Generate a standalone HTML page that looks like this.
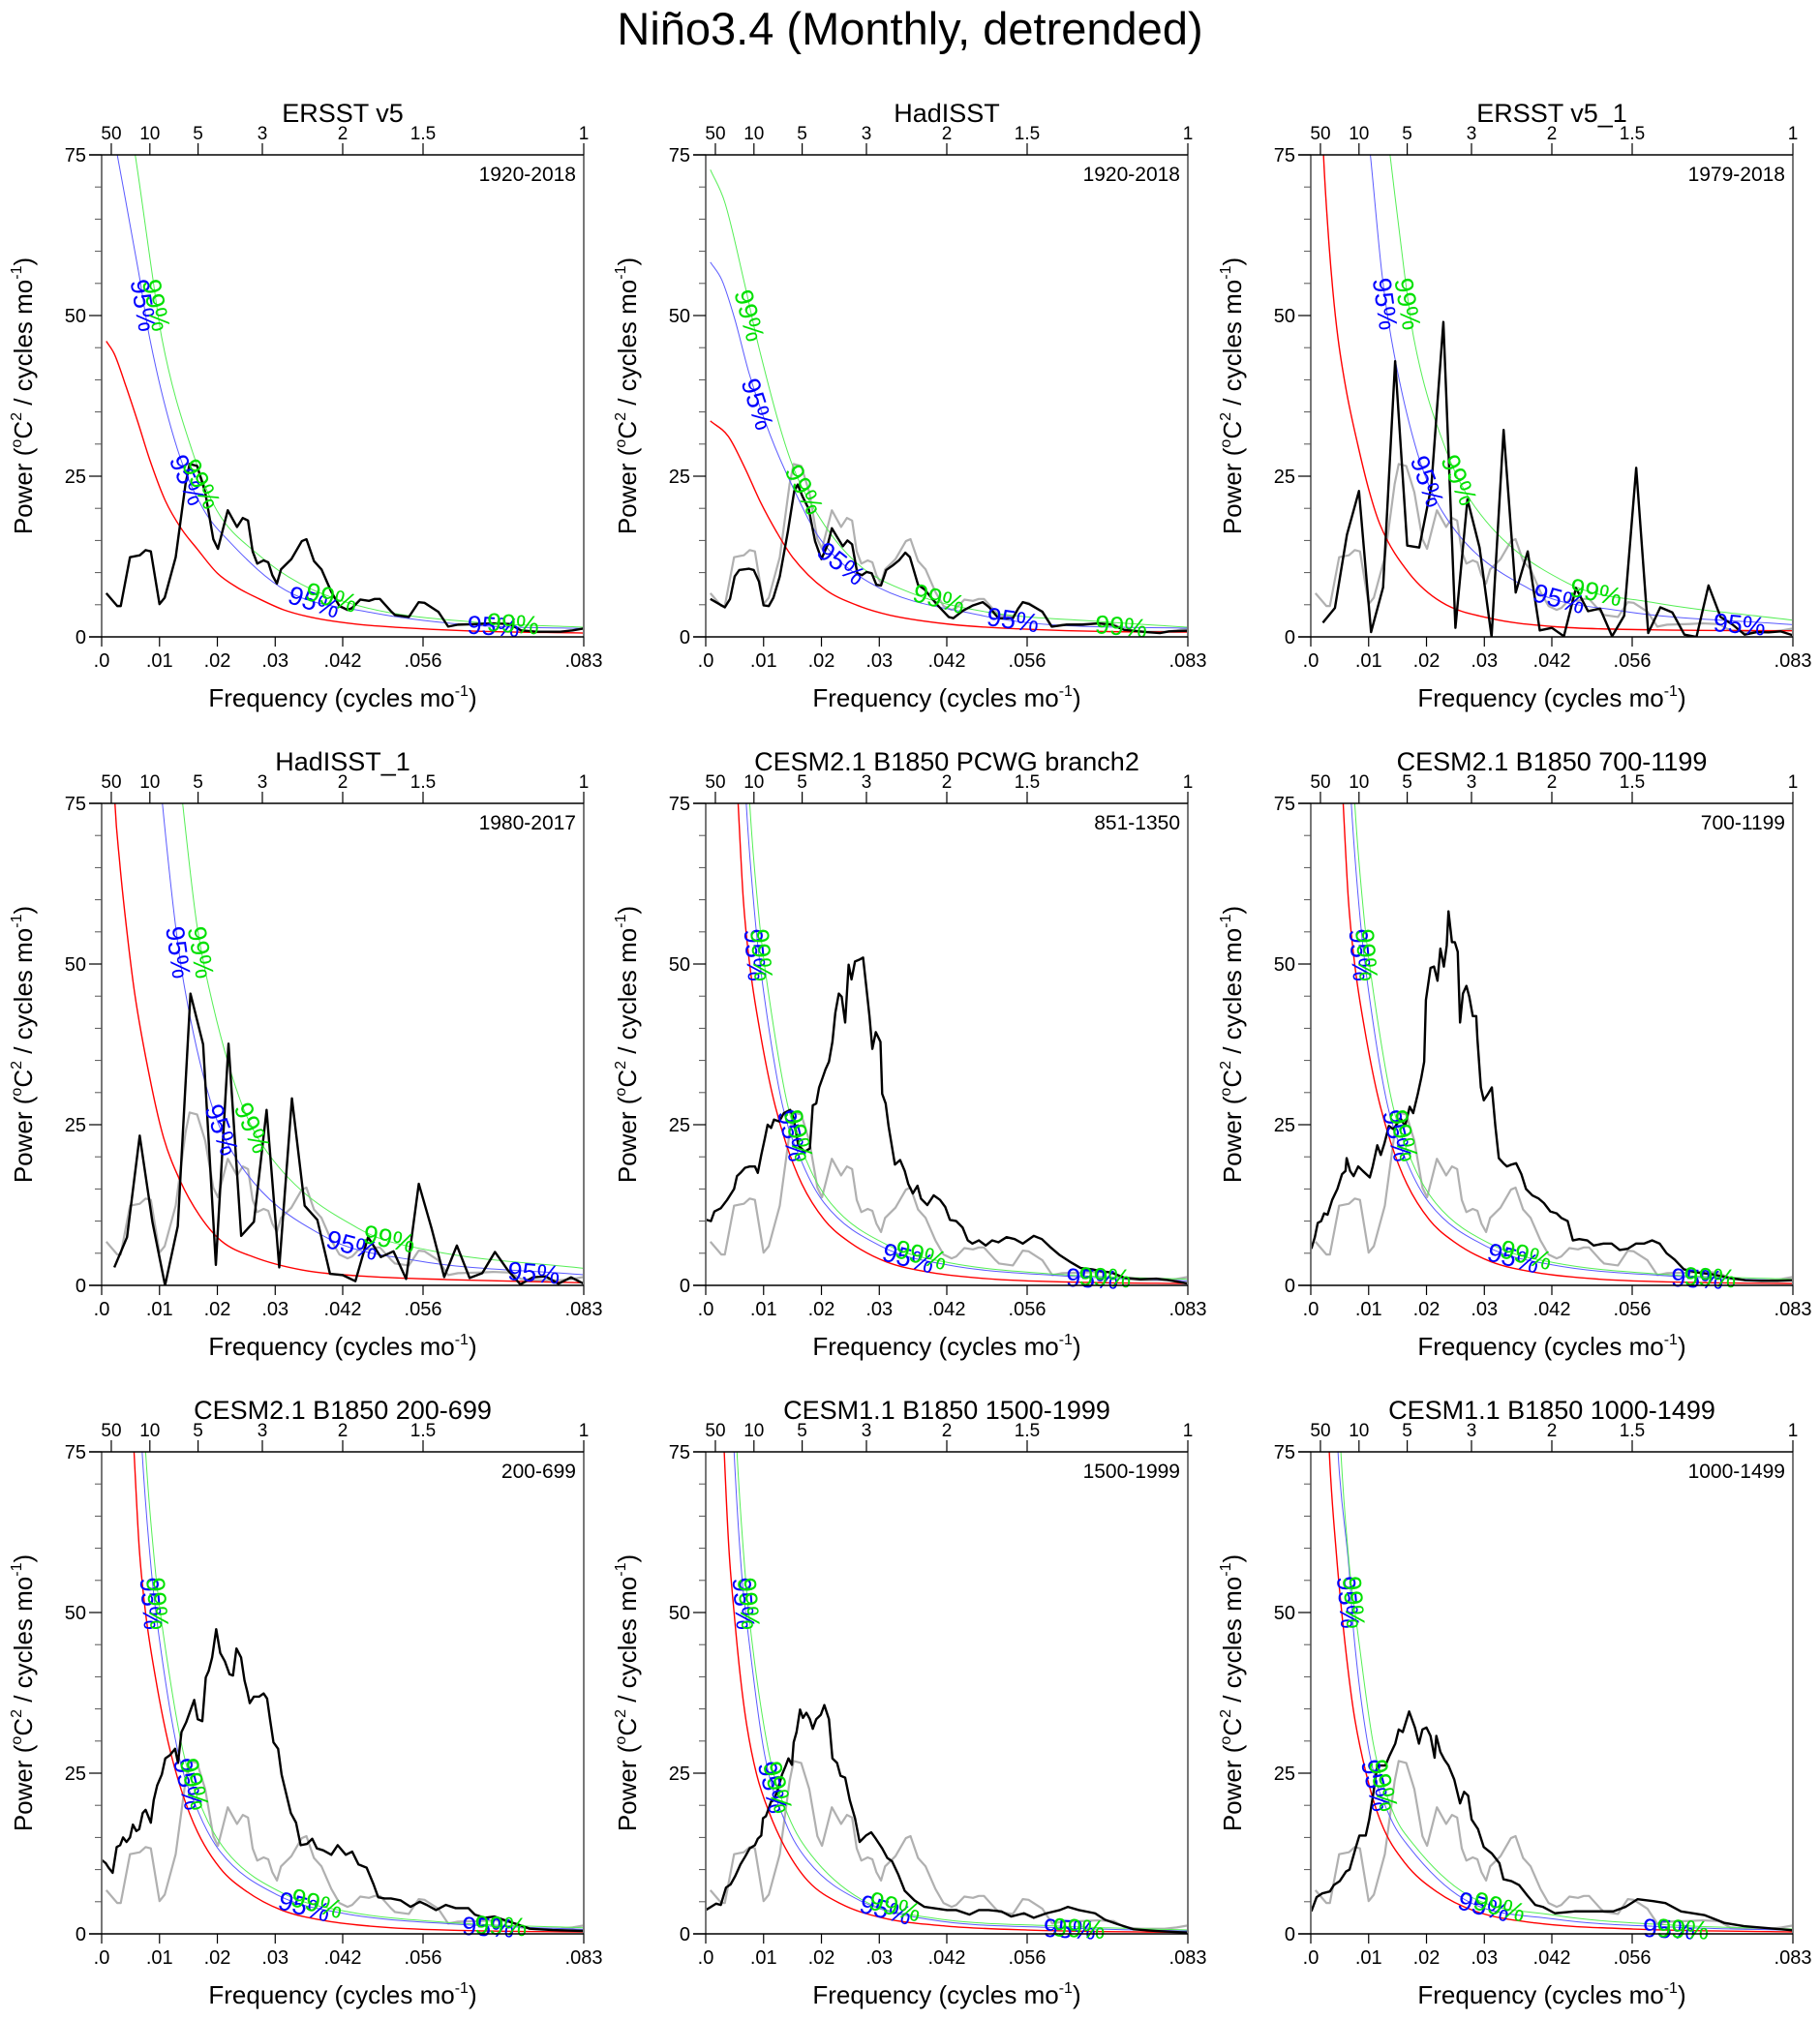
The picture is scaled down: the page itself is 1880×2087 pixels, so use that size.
<!DOCTYPE html>
<html><head><meta charset="utf-8"><title>Niño3.4 spectra</title>
<style>
html,body{margin:0;padding:0;background:#fff;}
svg{display:block;font-family:"Liberation Sans",sans-serif;}
</style></head>
<body>
<svg id="fig" xmlns="http://www.w3.org/2000/svg" width="1880" height="2087" viewBox="0 0 1880 2087">
<text x="940" y="46" text-anchor="middle" font-size="47">Niño3.4 (Monthly, detrended)</text>
</svg>
<script>
// ---------- shared gray series (ERSST v5 1920-2018) ----------
const ersstFreq = [.0008,.0027,.0033,.0049,.0066,.0076,.0085,.0100,.0109,.0128,.0145,.0152,.0165,.0179,.0193,.0201,.0218,.0234,.0244,.0253,.0261,.0269,.0280,.0288,.0295,.0303,.0310,.0328,.0346,.0354,.0367,.0380,.0397,.0411,.0425,.0433,.0447,.0462,.0472,.0481,.0500,.0507,.0531,.0548,.0558,.0582,.0599,.0616,.0653,.0677,.0705,.0725,.0752,.0793,.0814,.0833];
const ersstPower = [6.8,4.8,4.8,12.4,12.7,13.5,13.3,5.1,6.1,12.4,23.8,26.9,26.6,22.5,15.2,13.7,19.7,17.1,18.5,18.1,13.3,11.4,11.9,11.6,9.6,8.3,10.5,12.1,14.9,15.2,11.8,10.5,7.0,4.8,4.2,4.5,5.8,5.6,5.9,5.9,4.0,3.4,3.1,5.4,5.3,3.9,1.6,1.9,2.0,2.1,2.0,1.0,0.8,0.8,1.0,1.3];

// ---------- panel 2 HadISST ----------
const hadFreq = [.0008,.0033,.0042,.0050,.0058,.0075,.0083,.0092,.0100,.0109,.0117,.0128,.0142,.0153,.0159,.0167,.0178,.0189,.0200,.0211,.0218,.0228,.0237,.0245,.0253,.0262,.0270,.0278,.0287,.0295,.0303,.0312,.0323,.0334,.0345,.0353,.0367,.0378,.0401,.0420,.0428,.0445,.0462,.0479,.0490,.0506,.0531,.0540,.0548,.0559,.0582,.0598,.0623,.0651,.0679,.0701,.0723,.0762,.0785,.0801,.0833];
const hadPower = [5.9,4.6,5.9,9.4,10.4,10.6,10.4,8.6,4.9,4.8,6.1,9.4,16.4,22.7,23.7,21.9,19.9,14.9,12.1,14.4,16.9,15.4,14.1,15.0,14.4,9.9,9.6,10.1,9.9,8.1,8.0,10.4,11.1,11.9,13.1,12.4,8.1,7.4,4.9,3.1,2.9,4.1,4.9,5.4,4.6,2.9,2.9,4.4,5.4,5.1,3.9,1.6,1.9,1.9,2.1,1.9,1.1,0.75,0.6,0.85,0.95];

// ---------- panel 3 ERSST v5_1 (1979-2018) ----------
const ers1Freq = [.00208,.00417,.00625,.00833,.01042,.0125,.01458,.01667,.01875,.02083,.02292,.025,.02708,.02917,.03125,.03333,.03542,.0375,.03958,.04167,.04375,.04583,.04792,.05,.05208,.05417,.05625,.05833,.06042,.0625,.06458,.06667,.06875,.07083,.07292,.075,.07708,.07917,.08125,.08333];
const ers1Power = [2.2,4.5,15.9,22.7,0.75,7.7,42.9,14.2,13.9,23.4,49,1.4,21.4,13.9,0,32.2,6.9,13.3,1.0,1.4,0.1,7.6,4.0,4.4,0.1,3.3,26.3,0.6,4.6,3.8,0.35,0,8.0,3.1,1.9,0.35,0.75,0.7,0.85,0.25];

// ---------- panel 4 HadISST_1 (1980-2017) ----------
const had1Freq = [.00219,.00439,.00658,.00877,.01096,.01316,.01535,.01754,.01974,.02193,.02412,.02632,.02851,.0307,.03289,.03509,.03728,.03947,.04167,.04386,.04605,.04825,.05044,.05263,.05482,.05702,.05921,.0614,.0636,.06579,.06798,.07018,.07237,.07456,.07675,.07895,.08114,.08333];
const had1Power = [2.8,7.5,23.3,9.9,0,9.2,45.4,37.5,3.2,37.6,7.7,9.9,27.3,2.8,29.1,12.4,10.2,1.8,1.6,0.65,7.5,4.4,5.3,1.0,15.8,8.9,1.3,6.2,1.15,1.9,5.2,2.4,0.15,1.25,1.4,0.25,1.25,0.25];

// ---------- panel 5 CESM2.1 PCWG branch2 ----------
const pcwgFreq = [.0001,.0009,.0015,.0026,.0037,.0049,.0054,.006,.0068,.0076,.0085,.009,.0096,.0102,.0107,.0113,.0118,.0127,.0135,.0146,.0152,.016,.0171,.018,.0185,.0191,.0196,.0202,.0207,.0213,.0219,.0224,.023,.0235,.0241,.0247,.0252,.0258,.0266,.0272,.0277,.0283,.0288,.0294,.0302,.0305,.0311,.0316,.0327,.0336,.0344,.035,.0358,.0366,.0372,.0383,.0394,.0405,.0414,.0422,.0433,.0444,.0453,.0461,.0472,.0484,.0495,.0506,.052,.0534,.0548,.0556,.0567,.0581,.0595,.0612,.0629,.0648,.0668,.0684,.0701,.0723,.0751,.0779,.0801,.0833];
const pcwgPower = [10.2,10,11.5,12,13.3,15,17,17.5,18.3,18.5,18.5,17.5,20.3,22.8,25,24.5,25.8,25.5,26.8,27.3,26,21.8,20.8,21.3,28,28.3,30.8,32.3,33.6,34.8,37.9,42.4,45.4,44.9,40.9,49.9,47.6,50.4,50.7,51,46.9,41.9,36.8,39.4,37.9,29.8,28.3,24.8,18.8,19.5,17.8,15.8,14.3,15.5,13.5,12.5,14,13.3,12.2,10.2,10,9,7,6.5,7,6.2,7,6.7,7.5,7.2,6.5,7,7.7,7.2,6,4.7,3.7,2.7,2.5,2.2,2,1.2,0.95,1.05,0.8,0.3];

// ---------- panel 6 CESM2.1 700-1199 ----------
const c700Freq = [.0001,.0007,.0012,.0018,.0023,.0029,.0037,.0046,.0054,.006,.0062,.0068,.0074,.0082,.009,.0102,.0107,.0115,.0121,.0127,.0135,.0143,.0155,.0163,.0171,.0177,.0185,.0191,.0196,.0199,.0207,.0213,.0219,.0224,.023,.0235,.0238,.0244,.0249,.0254,.0258,.0263,.0269,.0274,.028,.0286,.0288,.0294,.0299,.0305,.0313,.0319,.0325,.0333,.0339,.0347,.0355,.0364,.0372,.0383,.0394,.0403,.0414,.0425,.0433,.0444,.0453,.0464,.0478,.0489,.0506,.052,.0534,.0548,.0562,.0576,.059,.0603,.0615,.0629,.0645,.0668,.0695,.0723,.0751,.0779,.0807,.0833];
const c700Power = [5.7,7.5,9.7,10,11.2,11,13.3,15,17.3,17.8,19.8,17.8,17,18.5,17.8,16.8,18.5,21.8,20.3,22,24.8,24.3,26,24.8,27.8,26.8,29.8,32.3,34.8,44.4,49.4,49.6,47.4,52.4,49.6,52.9,58.2,53.4,53.4,51.9,40.9,45.4,46.6,44.9,41.9,41.9,38.4,30.8,28.8,29.6,30.8,24.8,19.8,19,18.5,18.8,19,17.3,15,14,13.5,12.8,11.5,11.2,10.5,10,7,7.2,7,6.2,6.5,6.5,5.5,5.7,6.5,6.5,7,6.5,5,4,2.5,2,1.7,1.2,0.8,0.7,0.7,0.8];

// ---------- panel 7 CESM2.1 200-699 ----------
const c200Freq = [0,.0007,.0012,.0019,.0026,.0032,.0037,.0043,.0049,.0054,.006,.0065,.0071,.0076,.0085,.009,.0096,.0104,.011,.0118,.0127,.0132,.0138,.0146,.0152,.016,.0166,.0174,.018,.0185,.0191,.0198,.0205,.0213,.0221,.0227,.0233,.0241,.0247,.0252,.0256,.0263,.0272,.028,.0286,.0291,.0297,.0305,.0311,.0319,.0327,.0336,.0344,.0355,.0364,.0372,.0383,.0397,.0408,.0422,.0433,.0444,.0458,.047,.0478,.0489,.05,.0517,.0534,.055,.0562,.0578,.0595,.0612,.0634,.0645,.0662,.0679,.0701,.0718,.074,.0779,.0833];
const c200Power = [11.5,11,10.3,9.5,13.5,13.8,15,14.3,15,17,16,16.3,18.8,19.3,17.3,20.8,23.1,24.8,27.3,27.8,28.8,26.6,31.4,32.9,34.4,36.4,33.4,33.1,39.9,40.9,43,47.4,43.7,42.4,40.4,40.2,44.4,43,39.4,37.6,35.9,36.9,36.9,37.4,36.6,33.4,29.8,28.8,24.8,21.8,18.8,17.3,13.8,14,14.8,13.3,13,12.3,13.8,12.3,12.8,10.8,10.3,7.7,5.7,5.5,5.5,5.2,4.2,5,4.5,3.7,4.5,4,4,3,2.5,2.7,2,1.5,0.8,0.6,0.45];

// ---------- panel 8 CESM1.1 1500-1999 ----------
const c1500Freq = [0,.0009,.0018,.0026,.0035,.0043,.0051,.006,.0068,.0076,.0085,.009,.0096,.0099,.0104,.0113,.0118,.0124,.0132,.0138,.0143,.0149,.0152,.0157,.0163,.0168,.0174,.018,.0185,.0191,.0199,.0205,.0213,.0219,.0227,.0233,.0241,.0249,.0258,.0266,.0277,.0286,.0294,.0305,.0314,.0322,.0333,.0344,.0361,.0378,.0394,.0417,.0433,.0456,.0472,.0489,.0511,.0528,.055,.0567,.0589,.0612,.0626,.0645,.0673,.069,.0712,.074,.0779,.0833];
const c1500Power = [3.7,4.2,4.7,4.5,7.2,7.7,9,10.8,12,13.3,13.8,14.8,15.3,18,18.3,20.6,20.8,22.3,24.8,26.1,27.3,26.3,29.8,31.4,34.9,33.6,34.4,33.4,31.9,33.4,34.1,35.6,33.4,27.3,26.6,24.6,24.3,20.8,18,14.3,15.3,15.8,14.8,13.3,11.8,11.3,9.2,6.7,5.2,4.2,4,3.7,3.7,3,3.7,3.7,3.5,2.7,3.2,2.5,3.2,3.7,4.2,3.7,3.2,2.2,1.5,0.7,0.45,0.2];

// ---------- panel 9 CESM1.1 1000-1499 ----------
const c1000Freq = [.0001,.001,.002,.0033,.004,.005,.0061,.0067,.0078,.0084,.0095,.0101,.0108,.0115,.0129,.0136,.0146,.0152,.0159,.017,.018,.0187,.0193,.02,.0207,.0214,.0217,.0224,.0231,.0238,.0248,.0258,.0265,.0272,.0278,.0289,.0299,.0313,.0326,.0333,.0347,.036,.0374,.0388,.0401,.0422,.0456,.0489,.0523,.0544,.0565,.0592,.0613,.064,.0681,.0715,.0749,.0789,.0833];
const c1000Power = [3.5,5.7,6.3,6.6,7.6,8.2,9.7,10,13.5,15.3,15.3,17.8,21.8,26.2,26.2,27.7,29.6,31.8,31.4,34.6,32.1,29.6,31.8,32.1,30.8,27.4,30.8,28.3,27.1,26.2,24,20.3,22.1,21.5,17.8,16.3,13.5,12.5,11,8.5,8.2,7.6,6,4.5,4.2,3.2,3.5,3.5,3.5,4.2,5.4,5.1,4.8,3.5,2.9,1.7,1.2,0.9,0.55];

// ---------- red-noise and significance curves ----------
const red1F=[.0008,.0022,.0042,.0063,.0083,.011,.0138,.0165,.020,.0234,.0268,.0315,.037,.0438,.0507,.0643,.0833];
const red1V=[46,44,39,33.3,27.6,21.2,16.8,13.7,9.9,7.7,6.1,4.2,2.9,2.0,1.5,0.9,0.6];
const sig95_1F=[.0008,.0015,.0027,.0064,.0083,.0131,.0175,.022,.0319,.0459,.0643,.0833];
const sig95_1V=[85,81,75,56.7,46.5,29.2,20,14.9,7.2,3.9,1.8,1.3];
const sig99_1F=[.0008,.003,.0058,.0087,.0104,.0157,.0199,.0268,.0343,.0459,.0643,.0833];
const sig99_1V=[100,90,75,56.7,46.5,28.8,19.7,13,8.3,4.5,2.3,1.5];

const red2F=[.0008,.0039,.0067,.0095,.0122,.015,.0206,.0262,.0317,.0428,.054,.0679,.0833];
const red2V=[33.6,31.2,26.4,20.9,16.4,12.4,7.4,4.9,3.4,1.9,1.25,0.85,0.75];
const sig95_2F=[.0008,.0028,.005,.0075,.0111,.015,.0198,.0284,.0473,.0595,.0833];
const sig95_2V=[58.3,55.5,49.5,41,31.5,23.4,15.2,8.4,3.4,1.9,1.35];
const sig99_2F=[.0008,.0033,.0067,.0092,.0147,.0198,.0262,.0353,.0484,.0679,.0833];
const sig99_2V=[72.7,67.6,55,45,27.4,18.4,11.4,6.9,3.9,2.4,1.5];

const red3F=[.0016,.0022,.003,.0038,.0047,.0062,.0081,.010,.012,.017,.0226,.0309,.042,.0588,.0833];
const red3V=[90,75,63,54,46.5,38,30,23,17.4,9.9,5.4,2.9,1.6,1.1,0.95];
const sig95_3F=[.008,.0103,.0123,.0139,.0184,.0228,.0379,.0532,.0833];
const sig95_3V=[95,75,56.5,46.5,28.7,19.4,7.4,4.1,1.9];
const sig99_3F=[.011,.0137,.0162,.0178,.0234,.0284,.0443,.0588,.0833];
const sig99_3V=[95,75,56.5,46.5,29,20.2,8.4,5.4,2.6];

const red4F=[.0015,.0023,.0031,.004,.0057,.0085,.0107,.0135,.0169,.0207,.0263,.0346,.0458,.0597,.0833];
const red4V=[95,75,66,58,45.5,31.5,23,16.4,10.9,6.9,4.4,2.4,1.4,0.9,0.4];
const sig95_4F=[.0085,.0105,.0127,.0143,.0188,.0235,.0383,.0541,.0833];
const sig95_4V=[95,75,56.5,46.5,28.7,19.4,7.7,3.9,1.65];
const sig99_4F=[.0117,.014,.0164,.0185,.0238,.0288,.0447,.0569,.0833];
const sig99_4V=[95,75,56.5,46.5,29.2,20.5,8.7,5.4,2.65];

const redCF=[.0048,.0056,.0065,.0076,.0093,.0115,.0138,.0166,.0205,.0249,.0311,.0389,.05,.0668,.0833];
const redCV=[90,75,60,49.9,39.9,29.8,22.3,15.8,10.2,6.7,3.7,2.0,0.95,0.45,0.3];
const sig95_CF=[.0062,.007,.0086,.0099,.0132,.0168,.0205,.0305,.0417,.0612,.0833];
const sig95_CV=[90,75,56.4,46.4,28.3,18.8,12.8,6.0,3.2,1.5,0.7];
const sig99_CF=[.0068,.0076,.0093,.0107,.0141,.0177,.0216,.0316,.0422,.0612,.0833];
const sig99_CV=[90,75,56.4,46.4,28.3,18.8,12.8,6.2,3.5,1.7,0.95];

const red8F=[.0026,.0032,.004,.0049,.006,.0071,.0088,.011,.0138,.0177,.0233,.0305,.0417,.0556,.0833];
const red8V=[90,75,60,50,39.9,32.4,24.8,18.8,13.3,8.2,4.7,2.5,1.2,0.6,0.2];
const sig95_8F=[.0042,.0049,.0062,.0074,.0102,.0138,.0177,.0266,.0389,.0612,.0833];
const sig95_8V=[90,75,56.2,46.2,27.8,17.3,11.3,5.2,2.2,0.95,0.45];
const sig99_8F=[.0047,.0054,.0068,.0079,.011,.0143,.0182,.0272,.0389,.0612,.0833];
const sig99_8V=[90,75,56.2,46.2,27.8,18.3,12.3,5.2,2.5,1.2,0.6];

const red9F=[.0026,.0032,.0044,.0057,.0074,.0095,.0122,.0163,.0217,.0285,.0388,.0558,.0833];
const red9V=[90,75,59.4,47,34.6,25.2,17.2,11,6.6,3.5,1.7,0.75,0.3];
const sig95_9F=[.004,.0047,.0066,.0074,.0101,.0136,.017,.0265,.0422,.0626,.0833];
const sig95_9V=[90,75,56.9,47,28.3,18.4,13.5,5.4,2.3,1.05,0.55];
const sig99_9F=[.0045,.0052,.0067,.0081,.0108,.0142,.0176,.0272,.0422,.0626,.0833];
const sig99_9V=[90,75,56.9,47,29.6,19,14.1,6,2.9,1.35,0.75];

// ---------- axis ticks ----------
const xTickVals = [0, 0.01, 0.02, 0.03, 1/24, 1/18, 1/12];
const xTickLabels = [".0", ".01", ".02", ".03", ".042", ".056", ".083"];
const periodYears = [50, 10, 5, 3, 2, 1.5, 1];
const periodLabels = ["50", "10", "5", "3", "2", "1.5", "1"];
const yTickVals = [0, 25, 50, 75];
const yMinorVals = [5,10,15,20,30,35,40,45,55,60,65,70];

// ---------- significance label anchors [freq, power, angle] ----------
const lab1_95=[[.0072,51.6,80],[.0148,24.4,66],[.0367,5.4,18],[.0677,1.6,4]];
const lab1_99=[[.0094,51.6,78],[.0172,23.8,62],[.0397,6.1,15],[.0711,2.0,4]];
const lab2_95=[[.0089,36.2,72],[.0234,11.4,38],[.0531,2.6,8]];
const lab2_99=[[.0075,50,75],[.017,22.9,62],[.0403,5.9,15],[.0718,1.6,5]];
const lab3_95=[[.0128,51.8,82],[.0201,24.2,70],[.0429,5.9,15],[.0741,1.9,5]];
const lab3_99=[[.0167,51.8,80],[.0256,24.4,66],[.0493,6.9,12]];
const lab4_95=[[.0132,51.8,82],[.0207,24.2,70],[.0433,6.2,15],[.0747,1.9,5]];
const lab4_99=[[.0171,51.8,80],[.026,24.5,66],[.0497,7.2,12]];
const labC_95=[[.0085,51.4,85],[.0149,23.3,76],[.035,4.2,15],[.0668,1.0,3]];
const labC_99=[[.0096,51.4,85],[.016,23.3,76],[.0372,4.7,15],[.069,1.2,3]];
const lab8_95=[[.0065,51.4,85],[.0115,22.8,76],[.0311,3.7,15],[.0629,0.7,3]];
const lab8_99=[[.0074,51.4,85],[.0124,22.8,76],[.0327,4.2,15],[.0645,0.8,3]];
const lab9_95=[[.0064,51.6,85],[.0112,23.1,76],[.0299,4.2,15],[.0619,0.7,3]];
const lab9_99=[[.0074,51.6,85],[.0125,23.1,76],[.0326,4.2,15],[.0643,0.7,3]];

const panels = [
 {name:"ersst-v5",title:"ERSST v5",period:"1920-2018",col:0,row:0,f:ersstFreq,p:ersstPower,gray:false,rf:red1F,rv:red1V,bf:sig95_1F,bv:sig95_1V,gf:sig99_1F,gv:sig99_1V,l95:lab1_95,l99:lab1_99},
 {name:"hadisst",title:"HadISST",period:"1920-2018",col:1,row:0,f:hadFreq,p:hadPower,gray:true,rf:red2F,rv:red2V,bf:sig95_2F,bv:sig95_2V,gf:sig99_2F,gv:sig99_2V,l95:lab2_95,l99:lab2_99},
 {name:"ersst-v5-1",title:"ERSST v5_1",period:"1979-2018",col:2,row:0,f:ers1Freq,p:ers1Power,gray:true,rf:red3F,rv:red3V,bf:sig95_3F,bv:sig95_3V,gf:sig99_3F,gv:sig99_3V,l95:lab3_95,l99:lab3_99},
 {name:"hadisst-1",title:"HadISST_1",period:"1980-2017",col:0,row:1,f:had1Freq,p:had1Power,gray:true,rf:red4F,rv:red4V,bf:sig95_4F,bv:sig95_4V,gf:sig99_4F,gv:sig99_4V,l95:lab4_95,l99:lab4_99},
 {name:"cesm2-pcwg",title:"CESM2.1 B1850 PCWG branch2",period:"851-1350",col:1,row:1,f:pcwgFreq,p:pcwgPower,gray:true,rf:redCF,rv:redCV,bf:sig95_CF,bv:sig95_CV,gf:sig99_CF,gv:sig99_CV,l95:labC_95,l99:labC_99},
 {name:"cesm2-700",title:"CESM2.1 B1850 700-1199",period:"700-1199",col:2,row:1,f:c700Freq,p:c700Power,gray:true,rf:redCF,rv:redCV,bf:sig95_CF,bv:sig95_CV,gf:sig99_CF,gv:sig99_CV,l95:labC_95,l99:labC_99},
 {name:"cesm2-200",title:"CESM2.1 B1850 200-699",period:"200-699",col:0,row:2,f:c200Freq,p:c200Power,gray:true,rf:redCF,rv:redCV,bf:sig95_CF,bv:sig95_CV,gf:sig99_CF,gv:sig99_CV,l95:labC_95,l99:labC_99},
 {name:"cesm1-1500",title:"CESM1.1 B1850 1500-1999",period:"1500-1999",col:1,row:2,f:c1500Freq,p:c1500Power,gray:true,rf:red8F,rv:red8V,bf:sig95_8F,bv:sig95_8V,gf:sig99_8F,gv:sig99_8V,l95:lab8_95,l99:lab8_99},
 {name:"cesm1-1000",title:"CESM1.1 B1850 1000-1499",period:"1000-1499",col:2,row:2,f:c1000Freq,p:c1000Power,gray:true,rf:red9F,rv:red9V,bf:sig95_9F,bv:sig95_9V,gf:sig99_9F,gv:sig99_9V,l95:lab9_95,l99:lab9_99}
];

const NS="http://www.w3.org/2000/svg";
const svg=document.getElementById("fig");
const colX=[105,729,1354], rowY=[160,830,1500], PW=498, PH=498, FMAX=1/12, YMAX=75;

function mk(tag, attrs, parent){
  const e=document.createElementNS(NS,tag);
  for(const k in attrs) e.setAttribute(k,attrs[k]);
  parent.appendChild(e);
  return e;
}
function monoPath(xs, ys){
  const n=xs.length; if(n<2) return "";
  const d=[],m=[];
  for(let i=0;i<n-1;i++) d.push((ys[i+1]-ys[i])/(xs[i+1]-xs[i]));
  m[0]=d[0]; m[n-1]=d[n-2];
  for(let i=1;i<n-1;i++){ m[i]=(d[i-1]*d[i]<=0)?0:(d[i-1]+d[i])/2; }
  for(let i=0;i<n-1;i++){ if(d[i]===0){m[i]=0;m[i+1]=0;continue;} const a=m[i]/d[i],b=m[i+1]/d[i],s=a*a+b*b; if(s>9){const t=3/Math.sqrt(s);m[i]=t*a*d[i];m[i+1]=t*b*d[i];} }
  let p="M"+xs[0].toFixed(2)+","+ys[0].toFixed(2);
  for(let i=0;i<n-1;i++){ const h=(xs[i+1]-xs[i])/3;
    p+=" C"+(xs[i]+h).toFixed(2)+","+(ys[i]+m[i]*h).toFixed(2)+" "+(xs[i+1]-h).toFixed(2)+","+(ys[i+1]-m[i+1]*h).toFixed(2)+" "+xs[i+1].toFixed(2)+","+ys[i+1].toFixed(2); }
  return p;
}

panels.forEach((P,idx)=>{
  const L=colX[P.col], T=rowY[P.row], B=T+PH, R=L+PW;
  const xs=f=>L+f/FMAX*PW, ys=v=>T+(YMAX-v)/YMAX*PH;
  const g=mk("g",{},svg);
  
  
  const cp=mk("clipPath",{id:"clip"+idx},g);
  mk("rect",{x:L,y:T,width:PW,height:PH},cp);

  const t=mk("text",{x:L+PW/2,y:T-34,"text-anchor":"middle","font-size":27},g);
  t.textContent=P.title;
  
  

  const pl=mk("text",{x:L+490,y:T+27,"text-anchor":"end","font-size":21},g);
  pl.textContent=P.period;
  
  

  const sg=mk("g",{"clip-path":"url(#clip"+idx+")"},g);
  
  
  if(P.gray){
    const gp=mk("polyline",{points:ersstFreq.map((f,i)=>xs(f).toFixed(2)+","+ys(ersstPower[i]).toFixed(2)).join(" "),fill:"none",stroke:"#b0b0b0","stroke-width":2.2,"stroke-linejoin":"round"},sg);
    
    
  }
  const rp=mk("path",{d:monoPath(P.rf.map(xs),P.rv.map(ys)),fill:"none",stroke:"#ff0000","stroke-width":1.4},sg);
  
  
  const bp=mk("path",{d:monoPath(P.bf.map(xs),P.bv.map(ys)),fill:"none",stroke:"#5a5aff","stroke-width":1},sg);
  
  
  const gpp=mk("path",{d:monoPath(P.gf.map(xs),P.gv.map(ys)),fill:"none",stroke:"#55ee55","stroke-width":1},sg);
  
  
  const n=Math.min(P.f.length,P.p.length);
  const pts=[]; for(let i=0;i<n;i++) pts.push(xs(P.f[i]).toFixed(2)+","+ys(P.p[i]).toFixed(2));
  const kp=mk("polyline",{points:pts.join(" "),fill:"none",stroke:"#000","stroke-width":2.4,"stroke-linejoin":"round"},sg);
  
  

  [[P.l95,"95%","#0000ff"],[P.l99,"99%","#00e000"]].forEach(([arr,txt,col])=>{
    arr.forEach(a=>{
      const x=xs(a[0]), y=ys(a[1]);
      const lt=mk("text",{x:x,y:y,fill:col,"font-size":27,"text-anchor":"middle","dominant-baseline":"central",transform:"rotate("+a[2]+" "+x.toFixed(1)+" "+y.toFixed(1)+")"},g);
      lt.textContent=txt;
      
      
    });
  });

  const fr=mk("g",{},g);
  
  
  mk("line",{x1:L,y1:T,x2:L,y2:B,stroke:"#777","stroke-width":2},fr);
  mk("line",{x1:R,y1:T,x2:R,y2:B,stroke:"#777","stroke-width":2},fr);
  mk("line",{x1:L-13,y1:T,x2:R,y2:T,stroke:"#000","stroke-width":1.4},fr);
  mk("line",{x1:L-13,y1:B,x2:R,y2:B,stroke:"#000","stroke-width":1.6},fr);

  const ya=mk("g",{},g);
  
  
  yTickVals.forEach(v=>{
    mk("line",{x1:L-13,y1:ys(v),x2:L,y2:ys(v),stroke:"#000","stroke-width":1.2},ya);
    const tl=mk("text",{x:L-16,y:ys(v)+7,"text-anchor":"end","font-size":20},ya);
    tl.textContent=String(v);
    
    
  });
  yMinorVals.forEach(v=>{ mk("line",{x1:L-7,y1:ys(v),x2:L,y2:ys(v),stroke:"#555","stroke-width":1},ya); });
  const yt=mk("text",{transform:"translate("+(L-81)+","+(T+PH/2)+") rotate(-90)","text-anchor":"middle","font-size":26,y:9},ya);
  yt.innerHTML='Power (<tspan font-size="16" dy="-11">o</tspan><tspan dy="11">C</tspan><tspan font-size="16" dy="-11">2</tspan><tspan dy="11"> / cycles mo</tspan><tspan font-size="16" dy="-11">-1</tspan><tspan dy="11">)</tspan>';
  
  

  const xa=mk("g",{},g);
  
  
  xTickVals.forEach((v,i)=>{
    mk("line",{x1:xs(v),y1:B,x2:xs(v),y2:B+10,stroke:"#000","stroke-width":1.2},xa);
    const tl=mk("text",{x:xs(v),y:B+31,"text-anchor":"middle","font-size":20},xa);
    tl.textContent=xTickLabels[i];
    
    
  });
  const xt=mk("text",{x:L+PW/2,y:B+72,"text-anchor":"middle","font-size":26},xa);
  xt.innerHTML='Frequency (cycles mo<tspan font-size="16" dy="-11">-1</tspan><tspan dy="11">)</tspan>';
  
  

  const ta=mk("g",{},g);
  
  
  periodYears.forEach((yr,i)=>{
    const x=xs(1/(12*yr));
    mk("line",{x1:x,y1:T,x2:x,y2:T-12,stroke:"#000","stroke-width":1.2},ta);
    const tl=mk("text",{x:x,y:T-16,"text-anchor":"middle","font-size":19},ta);
    tl.textContent=periodLabels[i];
    
    
  });
});
</script>
</body></html>
